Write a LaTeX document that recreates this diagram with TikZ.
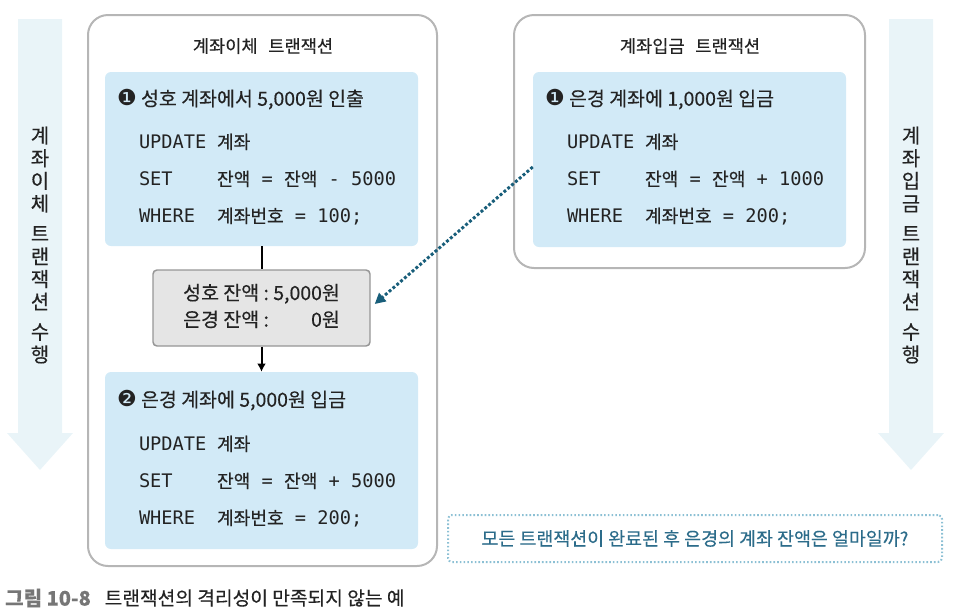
\documentclass[tikz,border=0pt]{standalone}
\usepackage{fontspec}
\setmainfont{Noto Sans CJK KR}[FakeBold=0.3]
\setmonofont{DejaVu Sans Mono}
\newfontfamily\symfont{DejaVu Sans}
\usepackage{xcolor}
\usetikzlibrary{arrows.meta,positioning}

\definecolor{boxblue}{RGB}{210,234,247}
\definecolor{flowblue}{RGB}{233,244,248}
\definecolor{framegray}{RGB}{182,182,182}
\definecolor{statefill}{RGB}{229,229,229}
\definecolor{stateline}{RGB}{150,150,150}
\definecolor{linkteal}{RGB}{24,94,122}
\definecolor{asklight}{RGB}{140,192,212}
\definecolor{asktext}{RGB}{44,108,138}
\definecolor{inkgray}{RGB}{35,35,35}
\definecolor{capgray}{RGB}{118,118,118}

\newcommand{\sqlop}[1]{{\fontsize{14}{16}\selectfont\ttfamily #1}}
\newcommand{\sqlkw}[1]{\makebox[58.5pt][l]{\sqlop{#1}}}
\newcommand{\stepno}[1]{{\fontsize{16.5}{17}\selectfont\symfont #1}}

\begin{document}
\begin{tikzpicture}[x=0.75pt,y=-0.75pt,>=Latex,text=inkgray,
  frame/.style={draw=framegray, line width=1.5pt, rounded corners=15pt, inner sep=0pt},
  stepbox/.style={fill=boxblue, rounded corners=4.5pt, inner sep=0pt, minimum width=234.75pt},
  statebox/.style={draw=stateline, fill=statefill, line width=1.1pt, rounded corners=3pt,
    minimum width=162.75pt, minimum height=57pt, font=\fontsize{14.6}{20}\selectfont},
  boxtitle/.style={font=\fontsize{13.2}{15}\selectfont},
  stephead/.style={anchor=base west, inner sep=0pt, font=\fontsize{14.6}{17}\selectfont},
  sqlline/.style={anchor=base west, inner sep=0pt, font=\fontsize{13.6}{16}\selectfont},
  flowlabel/.style={align=center, font=\fontsize{15}{17}\selectfont},
  ask/.style={draw=asklight, line width=1.5pt, dash pattern=on 1.2pt off 1.6pt, rounded corners=3pt,
    text=asktext, font=\fontsize{13.8}{15}\selectfont},
  caption/.style={anchor=west, inner sep=0pt, font=\fontsize{14.4}{16}\selectfont}]

\useasboundingbox (0,0) rectangle (967,615);

% Flow arrows
\fill[flowblue] (18,19) -- (62,19) -- (62,433) -- (73,433) -- (40,470) -- (7,433) -- (18,433) -- cycle;
\fill[flowblue] (889,19) -- (933,19) -- (933,433) -- (944,433) -- (911,470) -- (878,433) -- (889,433) -- cycle;
\node[flowlabel] (transferflow) at (40,245) {계\\좌\\이\\체\\[5.6pt]트\\랜\\잭\\션\\[5.6pt]수\\행};
\node[flowlabel] (depositflow) at (911,245) {계\\좌\\입\\금\\[5.6pt]트\\랜\\잭\\션\\[5.6pt]수\\행};

% Transactions
\node[frame, minimum width=261.75pt, minimum height=413.25pt] (transfer) at (262.5,290.5) {};
\node[frame, minimum width=263.25pt, minimum height=189.75pt] (deposit) at (689.5,141.5) {};
\node[boxtitle] (transfertitle) at (263,46) {계좌이체\hspace{8pt}트랜잭션};
\node[boxtitle] (deposittitle) at (690,46) {계좌입금\hspace{8pt}트랜잭션};

% Step 1: withdraw
\node[stepbox, minimum height=130.5pt] (withdraw) at (261.5,159) {};
\node[stephead] (withdrawhead) at ([shift={(12,34)}]withdraw.north west) {\stepno{❶} 성호 계좌에서 5,000원 인출};
\node[sqlline] (withdrawsqla) at ([shift={(34,77)}]withdraw.north west) {\sqlkw{UPDATE}계좌};
\node[sqlline] (withdrawsqlb) at ([shift={(34,114)}]withdraw.north west) {\sqlkw{SET}잔액\sqlop{ = }잔액\sqlop{ - 5000}};
\node[sqlline] (withdrawsqlc) at ([shift={(34,151)}]withdraw.north west) {\sqlkw{WHERE}계좌번호\sqlop{ = 100;}};

% Balance in between
\node[statebox] (balance) at (261.5,308)
  {\begin{tabular}{@{}l@{~:~}r@{}}성호 잔액 & 5,000원\\은경 잔액 & 0원\end{tabular}};

% Step 2: credit
\node[stepbox, minimum height=132.75pt] (credit) at (261.5,460.5) {};
\node[stephead] (credithead) at ([shift={(12,35)}]credit.north west) {\stepno{❷} 은경 계좌에 5,000원 입금};
\node[sqlline] (creditsqla) at ([shift={(34,79)}]credit.north west) {\sqlkw{UPDATE}계좌};
\node[sqlline] (creditsqlb) at ([shift={(34,116)}]credit.north west) {\sqlkw{SET}잔액\sqlop{ = }잔액\sqlop{ + 5000}};
\node[sqlline] (creditsqlc) at ([shift={(34,153)}]credit.north west) {\sqlkw{WHERE}계좌번호\sqlop{ = 200;}};

% Deposit step
\node[stepbox, minimum height=131.25pt] (income) at (689.5,159.5) {};
\node[stephead] (incomehead) at ([shift={(12,34)}]income.north west) {\stepno{❶} 은경 계좌에 1,000원 입금};
\node[sqlline] (incomesqla) at ([shift={(34,77)}]income.north west) {\sqlkw{UPDATE}계좌};
\node[sqlline] (incomesqlb) at ([shift={(34,114)}]income.north west) {\sqlkw{SET}잔액\sqlop{ = }잔액\sqlop{ + 1000}};
\node[sqlline] (incomesqlc) at ([shift={(34,151)}]income.north west) {\sqlkw{WHERE}계좌번호\sqlop{ = 200;}};

% Connectors
\draw[line width=1.5pt] (withdraw) -- (balance);
\draw[-{Latex[length=6pt,width=6.5pt]}, line width=1.5pt] (balance) -- (credit);
\draw[linkteal, line width=2.2pt, dash pattern=on 2.2pt off 1.6pt, -{Triangle[length=8pt,width=8pt]}]
  ([yshift=-5.6pt]income.west) -- ([shift={(3pt,3pt)}]balance.east);

% Question
\node[ask, minimum width=370.5pt, minimum height=35.25pt] (question) at (695,538.5)
  {모든 트랜잭션이 완료된 후 은경의 계좌 잔액은 얼마일까?};

% Caption
\node[caption, text=capgray, font=\fontsize{15}{16}\selectfont\bfseries] (figlabel) at (5,598) {그림 10-8};
\node[caption, right=10pt of figlabel] (figcaption) {트랜잭션의 격리성이 만족되지 않는 예};

\end{tikzpicture}
\end{document}
